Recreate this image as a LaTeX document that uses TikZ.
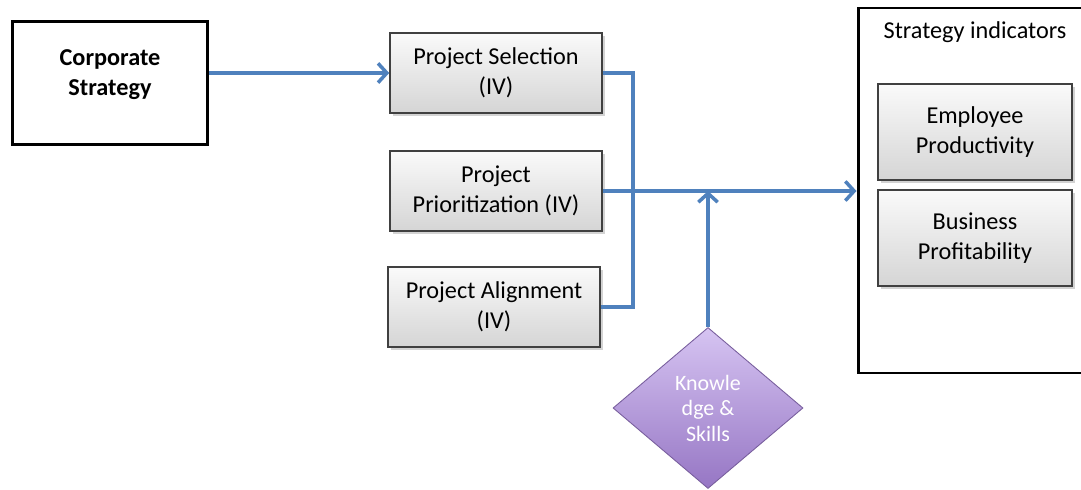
\documentclass[tikz,border=0pt]{standalone}
\usepackage{fontspec}
\setmainfont{Carlito}
\usetikzlibrary{arrows.meta,shapes.geometric,shadows}

\definecolor{linkblue}{RGB}{79,129,189}
\definecolor{purpletop}{RGB}{214,196,242}
\definecolor{purplebot}{RGB}{150,118,196}

\tikzset{
    every picture/.style={line width=0.75pt},
    bigbox/.style={draw=black, line width=1.7pt, fill=white, inner sep=0pt},
    varbox/.style={draw=black!75, line width=0.9pt, top color=gray!4, bottom color=gray!33,
        drop shadow={shadow xshift=0.06cm, shadow yshift=-0.06cm, opacity=0.35},
        minimum width=4.24cm, minimum height=1.6cm, align=center, inner sep=2pt},
    link/.style={draw=linkblue, line width=2pt},
    linkarrow/.style={link, -{Straight Barb[length=5pt,width=11pt,line width=2pt]}},
}

\begin{document}
\begin{tikzpicture}[font=\fontsize{13.8}{17}\selectfont]
    \useasboundingbox (0,0) rectangle (21.62,9.78);
    \clip (0,0) rectangle (21.62,9.78);

    % corporate strategy on the left
    \node[bigbox, minimum width=3.9cm, minimum height=2.46cm] (corp) at (2.2,8.12) {};
    \node[align=center, font=\fontsize{13.8}{17}\selectfont\bfseries] (corptext) at (2.2,8.28) {Corporate\\Strategy};

    % the three project variables
    \node[varbox] (sel)   at (9.92,8.32) {Project Selection\\(IV)};
    \node[varbox] (prio)  at (9.92,5.96) {Project\\Prioritization (IV)};
    \node[varbox] (align) at (9.88,3.64) {Project Alignment\\(IV)};

    % knowledge diamond
    \node[diamond, draw=purplebot!80!black, line width=0.5pt, top color=purpletop, bottom color=purplebot,
          minimum width=3.8cm, minimum height=3.22cm, inner sep=0pt, text=white, align=center,
          font=\fontsize{12.5}{14.5}\selectfont] (know) at (14.16,1.62) {Knowle\\dge \&\\Skills};

    % strategy indicators box, runs past the right edge
    \node[bigbox, minimum width=4.64cm, minimum height=7.3cm] (ind) at (19.48,5.97) {};
    \node (indtitle) at (19.5,9.14) {Strategy indicators};
    \node[varbox, minimum width=3.88cm, minimum height=1.92cm] (emp) at (19.5,7.14) {Employee\\Productivity};
    \node[varbox, minimum width=3.88cm, minimum height=1.92cm] (bus) at (19.5,5.02) {Business\\Profitability};

    % connectors
    \draw[linkarrow] (corp.east |- sel.west) -- (sel.west);
    \draw[link] (sel.east) -- ++(0.6,0) |- (align.east);
    \draw[linkarrow] (prio.east) -- (prio.east -| ind.west);
    \draw[linkarrow] (know.north) -- (know.north |- prio.east);
\end{tikzpicture}
\end{document}
